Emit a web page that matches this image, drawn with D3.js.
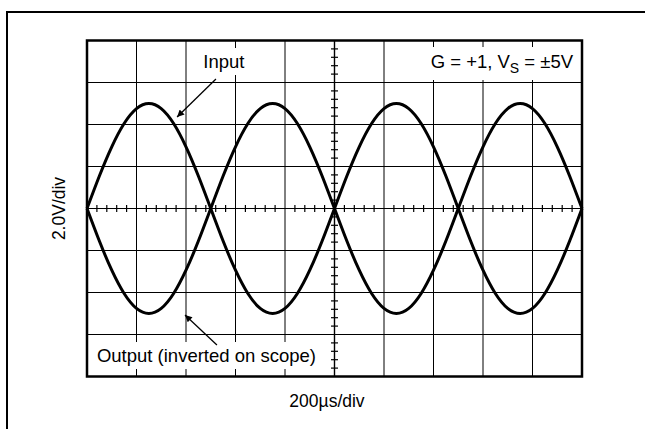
<!DOCTYPE html>
<html>
<head>
<meta charset="utf-8">
<script src="https://cdnjs.cloudflare.com/ajax/libs/d3/7.8.5/d3.min.js"></script>
<style>
  html, body { margin: 0; padding: 0; background: #fff; }
  svg { display: block; }
  text { font-family: "Liberation Sans", Arial, Helvetica, sans-serif; fill: #000; }
</style>
</head>
<body>
<script>
// ---- data (time in µs, voltage in V) ----
const timeUs = [0, 50, 100, 150, 200, 250, 300, 350, 400, 450, 500,
  550, 600, 650, 700, 750, 800, 850, 900, 950, 1000,
  1050, 1100, 1150, 1200, 1250, 1300, 1350, 1400, 1450, 1500,
  1550, 1600, 1650, 1700, 1750, 1800, 1850, 1900, 1950, 2000];
const inputV = [0, 1.55, 2.94, 4.05, 4.76, 5.0, 4.76, 4.05, 2.94, 1.55, 0,
  -1.55, -2.94, -4.05, -4.76, -5.0, -4.76, -4.05, -2.94, -1.55, 0,
  1.55, 2.94, 4.05, 4.76, 5.0, 4.76, 4.05, 2.94, 1.55, 0,
  -1.55, -2.94, -4.05, -4.76, -5.0, -4.76, -4.05, -2.94, -1.55, 0];
const outputV = [0, -1.55, -2.94, -4.05, -4.76, -5.0, -4.76, -4.05, -2.94, -1.55, 0,
  1.55, 2.94, 4.05, 4.76, 5.0, 4.76, 4.05, 2.94, 1.55, 0,
  -1.55, -2.94, -4.05, -4.76, -5.0, -4.76, -4.05, -2.94, -1.55, 0,
  1.55, 2.94, 4.05, 4.76, 5.0, 4.76, 4.05, 2.94, 1.55, 0];
const xGridTicks = [0, 200, 400, 600, 800, 1000, 1200, 1400, 1600, 1800, 2000];
const yGridTicks = [-8, -6, -4, -2, 0, 2, 4, 6, 8];
const xLabel = "200µs/div";
const yLabel = "2.0V/div";
const inputLabel = "Input";
const outputLabel = "Output (inverted on scope)";

const W = 645, H = 429;
const plot = { left: 87, right: 582, top: 40.5, bottom: 376.5 };

const svg = d3.select("body").append("svg").attr("width", W).attr("height", H);

const x = d3.scaleLinear().domain([0, 2000]).range([plot.left, plot.right]);
const y = d3.scaleLinear().domain([-8, 8]).range([plot.bottom, plot.top]);

// outer frame (extends beyond the picture at right and bottom)
svg.append("rect").attr("x", 7).attr("y", 12).attr("width", 700).attr("height", 500)
  .attr("fill", "none").attr("stroke", "#000").attr("stroke-width", 2);

// grid
const grid = svg.append("g");
grid.selectAll("line.v").data(xGridTicks).join("line").attr("class", "v")
  .attr("x1", d => x(d)).attr("x2", d => x(d))
  .attr("y1", plot.top).attr("y2", plot.bottom)
  .attr("stroke", "#000").attr("stroke-width", d => d === 1000 ? 1.4 : 1);
grid.selectAll("line.h").data(yGridTicks).join("line").attr("class", "h")
  .attr("x1", plot.left).attr("x2", plot.right)
  .attr("y1", d => y(d)).attr("y2", d => y(d))
  .attr("stroke", "#000").attr("stroke-width", 1);

// minor ticks on center axes (5 per division)
const xMinor = d3.range(0, 2000.1, 40).filter(v => v % 200 !== 0);
const yMinor = d3.range(-8, 8.01, 0.4).filter(v => Math.abs(Math.round(v / 2) * 2 - v) > 1e-6);
grid.selectAll("line.xm").data(xMinor).join("line")
  .attr("x1", d => x(d)).attr("x2", d => x(d))
  .attr("y1", y(0) - 3.5).attr("y2", y(0) + 3.5)
  .attr("stroke", "#000").attr("stroke-width", 1.2);
grid.selectAll("line.ym").data(yMinor).join("line")
  .attr("y1", d => y(d)).attr("y2", d => y(d))
  .attr("x1", x(1000) - 3.5).attr("x2", x(1000) + 3.5)
  .attr("stroke", "#000").attr("stroke-width", 1.2);

// labels with white backgrounds (placed before curves, over the grid)
function boxedText(tx, ty, anchor, pad) {
  const g = svg.append("g");
  const r = g.append("rect").attr("fill", "#fff");
  const t = g.append("text").attr("x", tx).attr("y", ty)
    .attr("text-anchor", anchor).attr("font-size", 18.5);
  return { g, r, t, pad };
}
function fitBox(o) {
  const b = o.t.node().getBBox();
  o.r.attr("x", b.x - o.pad).attr("y", b.y - o.pad)
    .attr("width", b.width + 2 * o.pad).attr("height", b.height + 2 * o.pad);
}

const inLab = boxedText(x(553), y(6.69), "middle", 3);
inLab.t.text(inputLabel);
fitBox(inLab);

const outLab = boxedText(x(40), y(-7.31), "start", 3);
outLab.t.text(outputLabel);
fitBox(outLab);

const gLab = boxedText(x(1964), y(6.69), "end", 4);
gLab.t.append("tspan").text("G = +1, V");
gLab.t.append("tspan").attr("font-size", 14).attr("dy", 5).text("S");
gLab.t.append("tspan").attr("dy", -5).text(" = \u00B15V");
fitBox(gLab);

// curves
const line = d3.line().curve(d3.curveNatural);
svg.append("path")
  .attr("d", line(timeUs.map((t, i) => [x(t), y(inputV[i])])))
  .attr("fill", "none").attr("stroke", "#000").attr("stroke-width", 3);
svg.append("path")
  .attr("d", line(timeUs.map((t, i) => [x(t), y(outputV[i])])))
  .attr("fill", "none").attr("stroke", "#000").attr("stroke-width", 3);

// plot border
svg.append("rect").attr("x", plot.left).attr("y", plot.top)
  .attr("width", plot.right - plot.left).attr("height", plot.bottom - plot.top)
  .attr("fill", "none").attr("stroke", "#000").attr("stroke-width", 2.5);

// arrows
svg.append("defs").append("marker").attr("id", "ah")
  .attr("viewBox", "0 0 10 10").attr("refX", 10).attr("refY", 5)
  .attr("markerWidth", 13).attr("markerHeight", 7).attr("markerUnits", "userSpaceOnUse")
  .attr("orient", "auto")
  .append("path").attr("d", "M0,0 L10,5 L0,10 z").attr("fill", "#000");
const arrows = [
  { from: [521, 6.17], to: [364, 4.36] },
  { from: [525, -6.5], to: [396, -5.07] }
];
svg.selectAll("line.arrow").data(arrows).join("line")
  .attr("x1", d => x(d.from[0])).attr("y1", d => y(d.from[1]))
  .attr("x2", d => x(d.to[0])).attr("y2", d => y(d.to[1]))
  .attr("stroke", "#000").attr("stroke-width", 1.3)
  .attr("marker-end", "url(#ah)");

// axis labels
svg.append("text").attr("x", 327).attr("y", 407)
  .attr("text-anchor", "middle").attr("font-size", 17.5).text(xLabel);
svg.append("text")
  .attr("transform", `translate(65,${y(0)}) rotate(-90)`)
  .attr("text-anchor", "middle").attr("font-size", 17.5).text(yLabel);
</script>
</body>
</html>
